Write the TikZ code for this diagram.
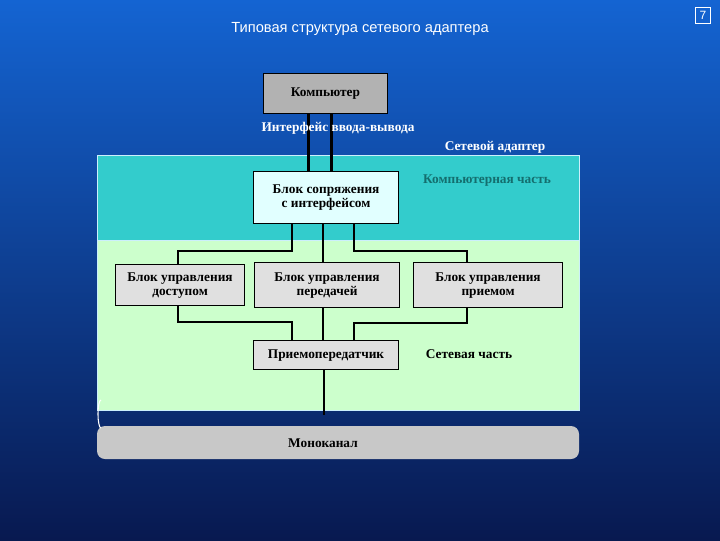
\documentclass[tikz,border=0pt]{standalone}
\usepackage{fontspec}
\setmainfont{Liberation Serif}
\newfontfamily\titlefont{Liberation Sans}
\begin{document}
\begin{tikzpicture}[x=0.75pt,y=-0.75pt,
  blk/.style={draw=black,line width=0.6pt,font=\bfseries\fontsize{10}{10.5}\selectfont,align=center,inner sep=0pt},
  wire/.style={line width=2.2pt,black},
  lbl/.style={font=\bfseries\fontsize{10}{11}\selectfont}]
\useasboundingbox (0,0) rectangle (720,540);
\shade[top color={rgb,255:red,20;green,100;blue,210},bottom color={rgb,255:red,8;green,25;blue,80}] (0,0) rectangle (720,540);
\node[text=white,font=\titlefont\fontsize{11}{12}\selectfont] (title) at (360,29) {Типовая структура сетевого адаптера};
\node[draw=white,text=white,font=\titlefont\fontsize{9}{9}\selectfont,minimum width=11pt,minimum height=12pt,inner sep=1pt] (pg) at (703,15) {7};
% regions
\fill[fill={rgb,255:red,51;green,204;blue,204},draw=white!80!cyan,line width=0.5pt] (97,155) rectangle (579,240);
\fill[fill={rgb,255:red,204;green,255;blue,204},draw=white!80!cyan,line width=0.5pt] (97,240) rectangle (579,410);
% nodes
\node[blk,fill={rgb,255:red,178;green,178;blue,178},minimum width=93pt,minimum height=30pt,anchor=north west] (comp) at (263,73) {Компьютер};
\node[blk,fill={rgb,255:red,225;green,255;blue,255},minimum width=109pt,minimum height=39pt,anchor=north west] (coup) at (253,171) {Блок сопряжения\\с интерфейсом};
\node[blk,fill={rgb,255:red,224;green,224;blue,224},minimum width=97pt,minimum height=31pt,anchor=north west] (acc) at (115,264) {Блок управления\\доступом};
\node[blk,fill={rgb,255:red,224;green,224;blue,224},minimum width=109pt,minimum height=34pt,anchor=north west] (tx) at (254,262) {Блок управления\\передачей};
\node[blk,fill={rgb,255:red,224;green,224;blue,224},minimum width=112pt,minimum height=34pt,anchor=north west] (rx) at (413,262) {Блок управления\\приемом};
\node[blk,fill={rgb,255:red,224;green,224;blue,224},minimum width=109pt,minimum height=22pt,anchor=north west] (trx) at (253,340) {Приемопередатчик};
% monochannel
\fill[fill={rgb,255:red,200;green,200;blue,200},rounded corners=6pt] (97,426) rectangle (579,459);
\draw[white,line width=0.8pt] (101,428) arc[start angle=90,end angle=270,x radius=3,y radius=14];
\node[lbl] (mono) at (323,443) {Моноканал};
% wires
\draw[wire] ([xshift=-12.75pt]comp.south) coordinate(c1) -- (c1 |- coup.north);
\draw[wire] ([xshift=0pt]comp.south) ++(0.75*6.5pt,0) coordinate(c2) -- (c2 |- coup.north);
\node[lbl,text=white] (iface) at (338,128) {Интерфейс ввода-вывода};
\node[lbl,text=white] (na) at (495,147) {Сетевой адаптер};
\node[lbl,text={rgb,255:red,20;green,110;blue,110}] (cp) at (487,181) {Компьютерная часть};
\node[lbl] (np) at (469,354) {Сетевая часть};
\coordinate (a1) at (292,223); \coordinate (a2) at (323,223); \coordinate (a3) at (354,223);
\draw[wire] (a1) -- (292,251) -| (acc.north -| 178,0);
\draw[wire] (a2) -- (tx.north -| a2);
\draw[wire] (a3) -- (354,251) -| (rx.north -| 467,0);
\draw[wire] (acc.south -| 178,0) -- (178,322) -| (trx.north -| 292,0);
\draw[wire] (tx.south -| a2) -- (trx.north -| a2);
\draw[wire] (rx.south -| 467,0) -- (467,323) -| (trx.north -| 354,0);
\draw[wire] (trx.south -| 324,0) -- (324,415);
\end{tikzpicture}
\end{document}
